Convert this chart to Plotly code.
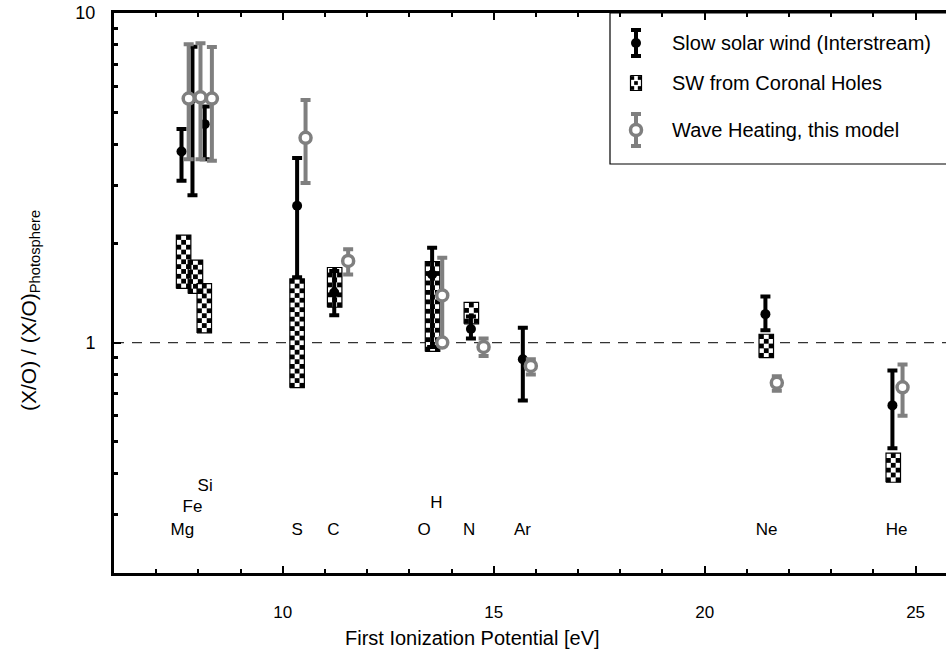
import numpy as np
import plotly.graph_objects as go

# ---------------- data ----------------
# Slow solar wind (Interstream): x [eV], value, lower and upper limits
slow_x  = [7.60, 7.86, 8.15, 10.34, 11.22, 13.54, 14.46, 15.69, 21.44, 24.45]
slow_y  = [3.80, 5.50, 4.60, 2.60, 1.42, 1.61, 1.10, 0.89, 1.22, 0.645]
slow_lo = [3.10, 2.80, 3.60, 1.58, 1.21, 0.97, 1.03, 0.667, 1.09, 0.478]
slow_hi = [4.45, 7.90, 5.20, 3.63, 1.65, 1.94, 1.20, 1.11, 1.38, 0.823]

# SW from Coronal Holes: x [eV], range low / high
ch_x  = [7.65, 7.93, 8.14, 10.34, 11.23, 13.55, 14.47, 21.46, 24.47]
ch_lo = [1.46, 1.41, 1.07, 0.73, 1.28, 0.94, 1.14, 0.90, 0.377]
ch_hi = [2.12, 1.78, 1.51, 1.56, 1.69, 1.76, 1.325, 1.06, 0.462]

# Wave Heating, this model
mod_x  = [7.77, 8.05, 8.32, 10.54, 11.55, 13.78, 13.78, 14.76, 15.88, 21.71, 24.69]
mod_y  = [5.50, 5.55, 5.50, 4.18, 1.77, 1.39, 1.00, 0.97, 0.85, 0.755, 0.732]
mod_lo = [3.60, 3.60, 3.56, 3.05, 1.61, 1.00, 1.00, 0.91, 0.80, 0.715, 0.60]
mod_hi = [8.04, 8.10, 7.88, 5.45, 1.92, 1.81, 1.00, 1.03, 0.89, 0.79, 0.858]

# element labels
lab_text = ["Mg", "Fe", "Si", "S", "C", "O", "H", "N", "Ar", "Ne", "He"]
lab_x    = [7.62, 7.86, 8.16, 10.34, 11.20, 13.35, 13.64, 14.42, 15.68, 21.47, 24.55]
lab_y    = [0.269, 0.316, 0.366, 0.269, 0.269, 0.269, 0.325, 0.269, 0.269, 0.269, 0.269]

ref_value = 1.0
x_tickvals = [10, 15, 20, 25]
y_tickvals = [1, 10]
y_minor = [0.2, 0.3, 0.4, 0.5, 0.6, 0.7, 0.8, 0.9, 2, 3, 4, 5, 6, 7, 8, 9]

legend_labels = ["Slow solar wind (Interstream)", "SW from Coronal Holes",
                 "Wave Heating, this model"]

# ---------------- layout constants ----------------
W, H = 946, 659
ML, MR, MT, MB = 114, 0, 13, 86
X_RANGE = [6.0, 25.72]
Y_RANGE = [0.2, 10.0]
plot_w = W - ML - MR
plot_h = H - MT - MB
px_per_ev = plot_w / (X_RANGE[1] - X_RANGE[0])
px_per_dec = plot_h / (np.log10(Y_RANGE[1]) - np.log10(Y_RANGE[0]))

GRAY = "#7f7f7f"
FONT = "Arial, Liberation Sans, sans-serif"
CELL_PX = 4.8
BOX_W_PX = 14.5


def checker(xc, lo, hi, width, ncol, cell, fwd, inv):
    a, b = fwd(lo), fwd(hi)
    nrow = max(1, int(round(abs(b - a) / cell)))
    dy = (b - a) / nrow
    cw = width / ncol
    xs, ys = [], []
    for i in range(nrow):
        for j in range(ncol):
            if (i + j) % 2 == 0:
                xs.append(xc - width / 2 + (j + 0.5) * cw)
                ys.append(inv(a + (i + 0.5) * dy))
    return xs, ys


def outline(xcs, los, his, width):
    xs, ys = [], []
    for xc, lo, hi in zip(xcs, los, his):
        xs += [xc - width / 2, xc + width / 2, xc + width / 2, xc - width / 2, xc - width / 2, None]
        ys += [lo, lo, hi, hi, lo, None]
    return xs, ys


fig = go.Figure()

# reference line at 1
fig.add_trace(go.Scatter(x=X_RANGE, y=[ref_value, ref_value], mode="lines",
                         line=dict(color="#333333", width=1.2, dash="10px,8px"),
                         hoverinfo="skip", showlegend=False))

# coronal hole boxes
box_w = BOX_W_PX / px_per_ev
ox, oy = outline(ch_x, ch_lo, ch_hi, box_w)
fig.add_trace(go.Scatter(x=ox, y=oy, mode="lines", fill="toself", fillcolor="white",
                         line=dict(color="black", width=1.2), showlegend=False,
                         hoverinfo="skip"))
cx, cy = [], []
for xc, lo, hi in zip(ch_x, ch_lo, ch_hi):
    a, b = checker(xc, lo, hi, box_w, 3, CELL_PX / px_per_dec,
                   np.log10, lambda v: 10 ** v)
    cx += a
    cy += b
fig.add_trace(go.Scatter(x=cx, y=cy, mode="markers",
                         marker=dict(symbol="square", size=CELL_PX, color="black",
                                     line=dict(width=0)),
                         showlegend=False, hoverinfo="skip"))

# slow solar wind
sy = np.array(slow_y)
fig.add_trace(go.Scatter(
    x=slow_x, y=slow_y, mode="markers",
    marker=dict(color="black", size=10),
    error_y=dict(type="data", symmetric=False,
                 array=np.array(slow_hi) - sy, arrayminus=sy - np.array(slow_lo),
                 color="black", thickness=4, width=5),
    showlegend=False))

# model
my = np.array(mod_y)
fig.add_trace(go.Scatter(
    x=mod_x, y=mod_y, mode="markers",
    marker=dict(color="white", size=11, line=dict(color=GRAY, width=3.5)),
    error_y=dict(type="data", symmetric=False,
                 array=np.array(mod_hi) - my, arrayminus=my - np.array(mod_lo),
                 color=GRAY, thickness=4, width=5),
    showlegend=False))

# element labels
fig.add_trace(go.Scatter(x=lab_x, y=lab_y, mode="text", text=lab_text,
                         textfont=dict(family=FONT, size=17, color="black"),
                         showlegend=False, hoverinfo="skip"))

# ---------------- hand-made legend (overlay axes in pixels) ----------------
leg_x = 636 - ML
leg_y = [43 - MT, 83 - MT, 130 - MT]
fig.add_trace(go.Scatter(x=[leg_x], y=[leg_y[0]], xaxis="x2", yaxis="y2", mode="markers",
                         marker=dict(color="black", size=10),
                         error_y=dict(type="constant", value=13, color="black",
                                      thickness=4, width=5),
                         showlegend=False, hoverinfo="skip"))
lox, loy = outline([leg_x], [leg_y[1] - 7.5], [leg_y[1] + 7.5], 11)
fig.add_trace(go.Scatter(x=lox, y=loy, xaxis="x2", yaxis="y2", mode="lines",
                         fill="toself", fillcolor="white",
                         line=dict(color="black", width=1.2),
                         showlegend=False, hoverinfo="skip"))
lcx, lcy = checker(leg_x, leg_y[1] - 7.5, leg_y[1] + 7.5, 11, 3, 5,
                   lambda v: v, lambda v: v)
fig.add_trace(go.Scatter(x=lcx, y=lcy, xaxis="x2", yaxis="y2", mode="markers",
                         marker=dict(symbol="square", size=3.7, color="black",
                                     line=dict(width=0)),
                         showlegend=False, hoverinfo="skip"))
fig.add_trace(go.Scatter(x=[leg_x], y=[leg_y[2]], xaxis="x2", yaxis="y2", mode="markers",
                         marker=dict(color="white", size=11,
                                     line=dict(color=GRAY, width=3.5)),
                         error_y=dict(type="constant", value=16, color=GRAY,
                                      thickness=4, width=5),
                         showlegend=False, hoverinfo="skip"))

annotations = []
for txt, yy in zip(legend_labels, leg_y):
    annotations.append(dict(text=txt, x=670 - ML, y=yy, xref="x2", yref="y2",
                            xanchor="left", yanchor="middle", showarrow=False,
                            font=dict(family=FONT, size=20, color="black")))

# axis titles
annotations.append(dict(text="First Ionization Potential [eV]",
                        x=(472 - ML) / plot_w, y=1 - (638 - MT) / plot_h,
                        xref="paper", yref="paper", xanchor="center", yanchor="middle",
                        showarrow=False, font=dict(family=FONT, size=20, color="black")))
annotations.append(dict(text="(X/O) / (X/O)<sub>Photosphere</sub>",
                        x=(30 - ML) / plot_w, y=1 - (311 - MT) / plot_h,
                        xref="paper", yref="paper", xanchor="center", yanchor="middle",
                        textangle=-90, showarrow=False,
                        font=dict(family=FONT, size=21, color="black")))

shapes = [dict(type="rect", xref="paper", yref="paper",
               x0=(610 - ML) / plot_w, x1=1.05, y0=1 - (164 - MT) / plot_h, y1=1,
               line=dict(color="black", width=1.2), fillcolor="rgba(0,0,0,0)",
               layer="above")]

fig.update_layout(
    width=W, height=H,
    margin=dict(l=ML, r=MR, t=MT, b=MB, pad=0),
    paper_bgcolor="white", plot_bgcolor="white",
    showlegend=False,
    font=dict(family=FONT, color="black"),
    annotations=annotations, shapes=shapes,
    xaxis=dict(range=X_RANGE, showgrid=False, zeroline=False,
               showline=True, linecolor="black", linewidth=3, mirror="ticks",
               ticks="inside", ticklen=7, tickwidth=2, tickcolor="black",
               tickmode="array", tickvals=x_tickvals, ticktext=["10", "15", "20", "25"],
               tickfont=dict(family=FONT, size=17, color="black"),
               ticklabelstandoff=22,
               minor=dict(ticks="inside", dtick=1, tick0=0, ticklen=4, tickwidth=2,
                          tickcolor="black", showgrid=False)),
    yaxis=dict(type="log", range=[np.log10(Y_RANGE[0]), np.log10(Y_RANGE[1])],
               showgrid=False, zeroline=False,
               showline=True, linecolor="black", linewidth=3, mirror=False,
               ticks="inside", ticklen=7, tickwidth=2, tickcolor="black",
               tickmode="array", tickvals=y_tickvals, ticktext=["1", "10"],
               tickfont=dict(family=FONT, size=18, color="black"),
               ticklabelstandoff=12,
               minor=dict(ticks="inside", tickmode="array", tickvals=y_minor,
                          ticklen=4, tickwidth=3, tickcolor="black", showgrid=False)),
    xaxis2=dict(overlaying="x", anchor="y2", range=[0, plot_w], visible=False,
                fixedrange=True),
    yaxis2=dict(overlaying="y", anchor="x2", range=[plot_h, 0], visible=False,
                fixedrange=True),
)

fig.write_html("out.html")
